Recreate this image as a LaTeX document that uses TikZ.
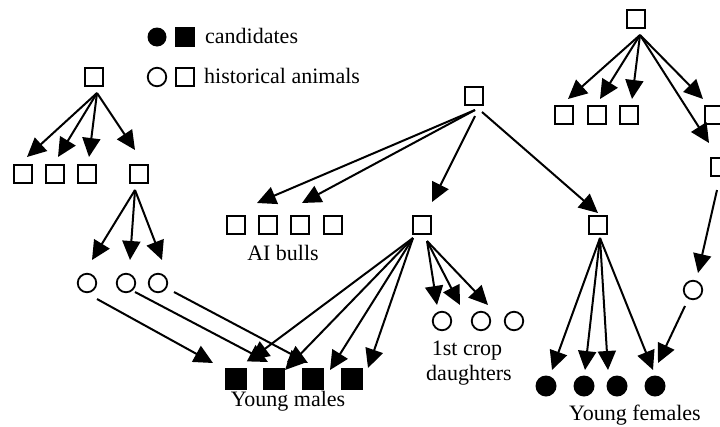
\documentclass[tikz,border=0pt]{standalone}
\usepackage{fontspec}
\setmainfont{Liberation Serif}
\usetikzlibrary{arrows.meta,calc}
\begin{document}
\begin{tikzpicture}[x=1pt,y=-1pt,
  sq/.style={draw,rectangle,minimum size=18.5pt,inner sep=0pt,line width=2.2pt},
  fsq/.style={fill=black,rectangle,minimum size=22pt,inner sep=0pt},
  oc/.style={draw,circle,minimum size=18.5pt,inner sep=0pt,line width=1.8pt},
  fc/.style={fill=black,circle,minimum size=21pt,inner sep=0pt},
  arr/.style={line width=2pt,-{Triangle[length=19pt,width=18pt]}},
  lbl/.style={inner sep=0pt,font=\fontsize{22}{25}\selectfont}]
\useasboundingbox (0,0) rectangle (720,426);
\clip (0,0) rectangle (720,426);

% legend
\node[fc,minimum size=19pt] (kfc) at (157,37) {};
\node[fsq,minimum size=20pt] (kfs) at (185,37) {};
\node[lbl,anchor=base west] (kt1) at (205,43) {candidates};
\node[oc] (koc) at (157,77) {};
\node[sq] (kos) at (185,77) {};
\node[lbl,anchor=base west] (kt2) at (204,83) {historical animals};

% left tree
\node[sq] (L0) at (94,77) {};
\node[sq] (L1a) at (23,174) {};
\node[sq] (L1b) at (55,174) {};
\node[sq] (L1c) at (87,174) {};
\node[sq] (L1d) at (139,174) {};
\node[oc] (LCa) at (87,283) {};
\node[oc] (LCb) at (126,283) {};
\node[oc] (LCc) at (158,283) {};

% middle tree
\node[sq] (M0) at (474,96) {};
\node[sq] (A1) at (236,225) {};
\node[sq] (A2) at (268,225) {};
\node[sq] (A3) at (300,225) {};
\node[sq] (A4) at (333,225) {};
\node[lbl,anchor=base] (AIl) at (283,260) {AI bulls};
\node[sq] (M1) at (422,225) {};
\node[oc] (D1) at (442,321) {};
\node[oc] (D2) at (481,321) {};
\node[oc] (D3) at (514,321) {};
\node[lbl,anchor=base] (Dl1) at (467,355) {1st crop};
\node[lbl,anchor=base] (Dl2) at (469,380) {daughters};
\node[fsq] (Y1) at (236,379) {};
\node[fsq] (Y2) at (274,379) {};
\node[fsq] (Y3) at (313,379) {};
\node[fsq] (Y4) at (352,379) {};
\node[lbl,anchor=base] (Yl) at (288,406) {Young males};

% right tree
\node[sq] (R0) at (636,19) {};
\node[sq] (R1a) at (564,115) {};
\node[sq] (R1b) at (597,115) {};
\node[sq] (R1c) at (629,115) {};
\node[sq] (R1d) at (714,115) {};
\node[sq] (R2) at (720,167) {};
\node[oc] (RC) at (693,290) {};
\node[sq] (RS) at (598,225) {};
\node[fc] (F1) at (546,386) {};
\node[fc] (F2) at (584,386) {};
\node[fc] (F3) at (617,386) {};
\node[fc] (F4) at (655,386) {};
\node[lbl,anchor=base] (Fl) at (635,420) {Young females};

% left arrows
\draw[arr] ($(L0)+(3,16)$) -- ($(L1a)+(4,-17)$);
\draw[arr] ($(L0)+(3,16)$) -- ($(L1b)+(3,-17)$);
\draw[arr] ($(L0)+(3,16)$) -- ($(L1c)+(2,-17)$);
\draw[arr] ($(L0)+(3,16)$) -- ($(L1d)+(-4,-24)$);
\draw[arr] ($(L1d)+(-4,16)$) -- ($(LCa)+(5,-23)$);
\draw[arr] ($(L1d)+(-4,16)$) -- ($(LCb)+(4,-23)$);
\draw[arr] ($(L1d)+(-4,16)$) -- ($(LCc)+(4,-23)$);
\draw[arr] ($(LCa)+(10,16)$) -- ($(Y1)+(-23,-16)$);
\draw[arr] ($(LCb)+(9,9)$) -- ($(Y2)+(-6,-17)$);
\draw[arr] ($(LCc)+(16,9)$) -- ($(Y3)+(-5,-16)$);

% middle arrows
\draw[arr] ($(M0)+(1,14)$) -- ($(A1)+(21,-22)$);
\draw[arr] ($(M0)+(1,14)$) -- ($(A2)+(34,-22)$);
\draw[arr] ($(M0)+(1,20)$) -- ($(M1)+(10,-23)$);
\draw[arr] ($(M0)+(8,16)$) -- ($(RS)+(0,-12)$);
\draw[arr] ($(M1)+(-9,13)$) -- ($(Y1)+(14,-19)$);
\draw[arr] ($(M1)+(-9,13)$) -- ($(Y2)+(11,-9)$);
\draw[arr] ($(M1)+(-9,13)$) -- ($(Y3)+(17,-9)$);
\draw[arr] ($(M1)+(-9,13)$) -- ($(Y4)+(16,-11)$);
\draw[arr] ($(M1)+(5,16)$) -- ($(D1)+(-5,-16)$);
\draw[arr] ($(M1)+(5,16)$) -- ($(D2)+(-21,-16)$);
\draw[arr] ($(M1)+(5,16)$) -- ($(D3)+(-26,-16)$);

% right arrows
\draw[arr] ($(R0)+(4,16)$) -- ($(R1a)+(4,-16)$);
\draw[arr] ($(R0)+(4,16)$) -- ($(R1b)+(3,-16)$);
\draw[arr] ($(R0)+(4,16)$) -- ($(R1c)+(3,-16)$);
\draw[arr] ($(R0)+(4,16)$) -- ($(R1d)+(-11,-16)$);
\draw[arr] ($(R0)+(4,16)$) -- ($(R2)+(-11,-24)$);
\draw[arr] ($(R2)+(-3,23)$) -- ($(RC)+(5,-17)$);
\draw[arr] ($(RC)+(-8,16)$) -- ($(F4)+(3,-23)$);
\draw[arr] ($(RS)+(2,13)$) -- ($(F1)+(6,-16)$);
\draw[arr] ($(RS)+(2,13)$) -- ($(F2)+(1,-16)$);
\draw[arr] ($(RS)+(2,13)$) -- ($(F3)+(-9,-16)$);
\draw[arr] ($(RS)+(2,13)$) -- ($(F4)+(-2,-16)$);
\end{tikzpicture}
\end{document}
